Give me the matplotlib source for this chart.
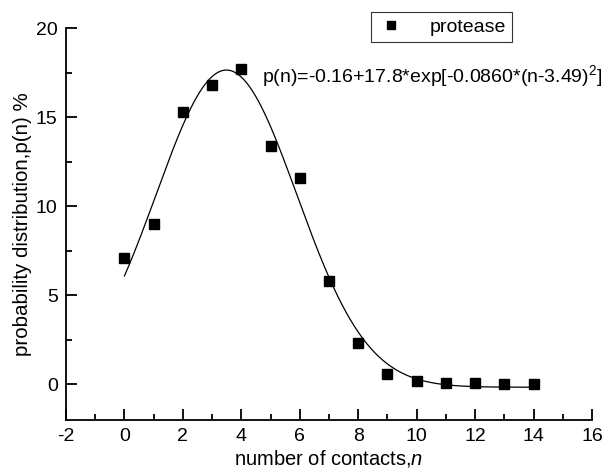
import numpy as np
import matplotlib
matplotlib.use("Agg")
import matplotlib.pyplot as plt
from matplotlib.ticker import MultipleLocator

plt.rcParams['font.family'] = ['Liberation Sans', 'DejaVu Sans']
plt.rcParams['mathtext.fontset'] = 'custom'
plt.rcParams['mathtext.rm'] = 'Liberation Sans'
plt.rcParams['mathtext.it'] = 'Liberation Sans:italic'
plt.rcParams['axes.unicode_minus'] = False

n = [0, 1, 2, 3, 4, 5, 6, 7, 8, 9, 10, 11, 12, 13, 14]
p = [7.1, 9.0, 15.3, 16.8, 17.7, 13.4, 11.6, 5.8, 2.35, 0.6, 0.2, 0.1, 0.05, 0.02, 0.0]

# fit parameters as printed on the chart
y0, A, k, xc = -0.16, 17.8, 0.0860, 3.49

fig = plt.figure(figsize=(6.15, 4.73), dpi=100)
ax = fig.add_axes([0.1073, 0.112, 0.8553, 0.8288])

xf = np.linspace(0, 14.1, 300)
yf = y0 + A * np.exp(-k * (xf - xc) ** 2)
ax.plot(xf, yf, color='black', lw=0.9)
ax.plot(n, p, 's', color='black', ms=6.5, label='protease', linestyle='none')

ax.set_xlim(-2, 16)
ax.set_ylim(-2, 20)
ax.xaxis.set_major_locator(MultipleLocator(2))
ax.xaxis.set_minor_locator(MultipleLocator(1))
ax.set_yticks([0, 5, 10, 15, 20])
ax.set_yticks([2.5, 7.5, 12.5, 17.5], minor=True)

for s in ['top', 'right']:
    ax.spines[s].set_visible(False)
for s in ['left', 'bottom']:
    ax.spines[s].set_linewidth(1.3)

ax.tick_params(which='major', direction='in', length=8, width=1.3, labelsize=14, pad=6)
ax.tick_params(which='minor', direction='in', length=4, width=1.3)

ax.set_xlabel('number of contacts,$\\it{n}$', fontsize=14.5, labelpad=2)
ax.set_ylabel('probability distribution,p(n) %', fontsize=14.8, labelpad=3)

ax.text(4.7, 17.3, 'p(n)=-0.16+17.8*exp[-0.0860*(n-3.49)$^{2}$]', fontsize=14, va='center', ha='left')

leg = ax.legend(loc='upper left', bbox_to_anchor=(0.58, 1.04), fontsize=14, frameon=True,
                fancybox=False, edgecolor='black', handlelength=1.4, handletextpad=1.3,
                borderpad=0.3, borderaxespad=0, markerscale=0.85)
leg.get_frame().set_linewidth(0.8)

fig.savefig('out.png', dpi=100)
